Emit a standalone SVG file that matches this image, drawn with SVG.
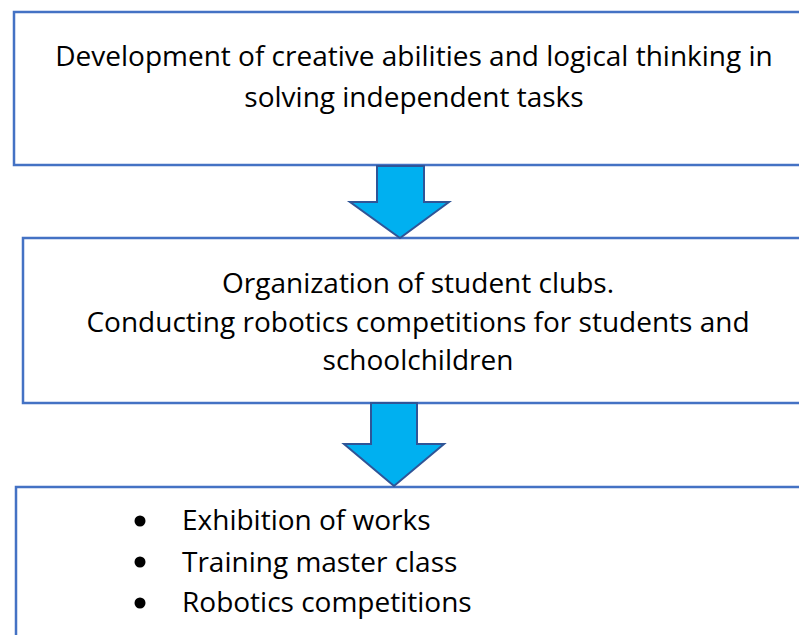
<svg xmlns="http://www.w3.org/2000/svg" width="799" height="635" viewBox="0 0 799 635">
<style>
.box{fill:#fff;stroke:#4472C4;stroke-width:2.5}
.arrow{fill:#00B0F0;stroke:#2F5597;stroke-width:2}
text{font-family:"Open Sans","Noto Sans",sans-serif;font-size:28px;fill:#000}
.c{text-anchor:middle}
</style>
<rect width="799" height="635" fill="#fff"/>
<g id="node1">
<rect class="box" x="14" y="12" width="800" height="153"/>
<text class="c" x="414" y="66">Development of creative abilities and logical thinking in</text>
<text class="c" x="414" y="107">solving independent tasks</text>
</g>
<g id="node2">
<rect class="box" x="23" y="238" width="800" height="165"/>
<text class="c" x="418" y="293">Organization of student clubs.</text>
<text class="c" x="418" y="332">Conducting robotics competitions for students and</text>
<text class="c" x="418" y="370">schoolchildren</text>
</g>
<g id="node3">
<rect class="box" x="16" y="487" width="800" height="160"/>
<circle cx="140" cy="521" r="5.5"/>
<circle cx="140" cy="562" r="5.5"/>
<circle cx="140" cy="603" r="5.5"/>
<text x="182" y="530">Exhibition of works</text>
<text x="182" y="572">Training master class</text>
<text x="182" y="612">Robotics competitions</text>
</g>
<g id="connectors">
<path class="arrow" d="M377,166 H424 V202 H449 L400,238 L350,202 H377 Z"/>
<path class="arrow" d="M371,403 H417 V444 H444 L394,486 L344,444 H371 Z"/>
</g>
</svg>
